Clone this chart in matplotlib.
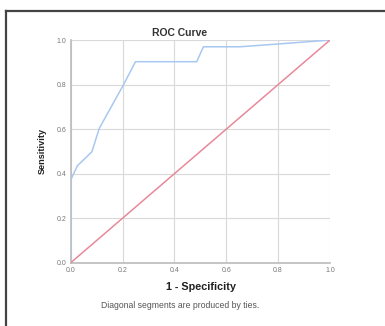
import matplotlib
matplotlib.use("Agg")
import matplotlib.pyplot as plt
from matplotlib.lines import Line2D

fpr = [0.0, 0.0, 0.026, 0.062, 0.082, 0.11, 0.203, 0.25, 0.486, 0.512, 0.653, 0.794, 1.0]
tpr = [0.0, 0.371, 0.436, 0.476, 0.499, 0.603, 0.798, 0.903, 0.903, 0.97, 0.97, 0.982, 1.0]
ref = [0.0, 1.0]
ticks = [0.0, 0.2, 0.4, 0.6, 0.8, 1.0]
tick_labels = ["0.0", "0.2", "0.4", "0.6", "0.8", "1.0"]

plt.rcParams['font.family'] = ['Liberation Sans', 'DejaVu Sans']
fig = plt.figure(figsize=(3.85, 3.26), dpi=100)
ax = fig.add_axes([0.1836, 0.194, 0.6734, 0.683])

ax.plot(fpr, tpr, color="#a8c8f0", lw=1.1, zorder=3)
ax.plot(ref, ref, color="#e7899b", lw=1.1, zorder=3)

ax.set_xlim(0, 1)
ax.set_ylim(0, 1)
ax.set_xticks(ticks)
ax.set_yticks(ticks)
ax.set_xticklabels(tick_labels)
ax.set_yticklabels(tick_labels)
ax.tick_params(labelsize=5, length=0, pad=3, colors="#777777")
ax.grid(True, color="#d9d9d9", lw=0.8)
ax.set_axisbelow(True)
for s in ["top", "right"]:
    ax.spines[s].set_visible(False)
for s in ["left", "bottom"]:
    ax.spines[s].set_color("#bbbbbb")
    ax.spines[s].set_linewidth(1.2)

fig.text(180/385, 1 - 33/326, "ROC Curve", fontsize=7.5, fontweight="bold",
         ha="center", va="center", color="#333333")
fig.text(201/385, 1 - 287/326, "1 - Specificity", fontsize=7.8, fontweight="bold",
         ha="center", va="center", color="#222222")
fig.text(42/385, 1 - 151/326, "Sensitivity", fontsize=6.6, fontweight="bold",
         ha="center", va="center", rotation=90, color="#222222")

fig.text(180/385, 1 - 305/326, "Diagonal segments are produced by ties.", fontsize=6.2,
         ha="center", va="center", color="#555555")

fig.add_artist(Line2D([6/385, 1.0], [1 - 11/326, 1 - 11/326], color="#444444", lw=1.6,
                      transform=fig.transFigure))
fig.add_artist(Line2D([6/385, 6/385], [1 - 11/326, 0.0], color="#444444", lw=1.6,
                      transform=fig.transFigure))

fig.savefig("out.png", dpi=100)
